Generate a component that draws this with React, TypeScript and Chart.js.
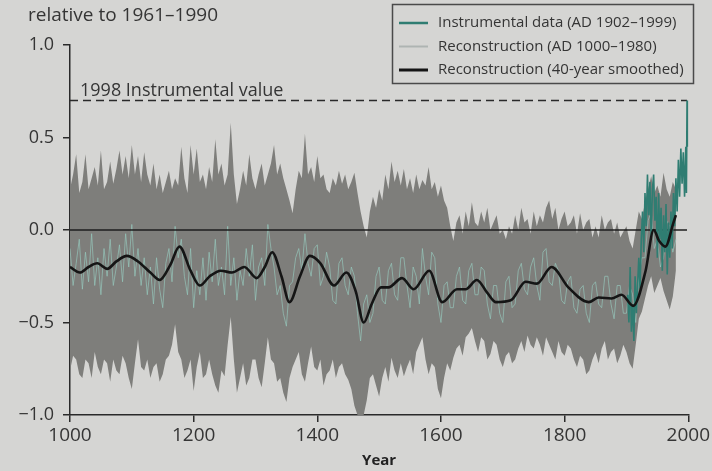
import React, { useEffect, useRef } from "react";
import { Chart, registerables } from "chart.js";
Chart.register(...registerables);

const BG = "#d5d5d3";
const TEXT = "#353535";

const bandYears = [
  1000, 1005, 1010, 1015, 1020, 1025, 1030, 1035, 1040, 1045,
  1050, 1055, 1060, 1065, 1070, 1075, 1080, 1085, 1090, 1095,
  1100, 1105, 1110, 1115, 1120, 1125, 1130, 1135, 1140, 1145,
  1150, 1155, 1160, 1165, 1170, 1175, 1180, 1185, 1190, 1195,
  1200, 1205, 1210, 1215, 1220, 1225, 1230, 1235, 1240, 1245,
  1250, 1255, 1260, 1265, 1270, 1275, 1280, 1285, 1290, 1295,
  1300, 1305, 1310, 1315, 1320, 1325, 1330, 1335, 1340, 1345,
  1350, 1355, 1360, 1365, 1370, 1375, 1380, 1385, 1390, 1395,
  1400, 1405, 1410, 1415, 1420, 1425, 1430, 1435, 1440, 1445,
  1450, 1455, 1460, 1465, 1470, 1475, 1480, 1485, 1490, 1495,
  1500, 1505, 1510, 1515, 1520, 1525, 1530, 1535, 1540, 1545,
  1550, 1555, 1560, 1565, 1570, 1575, 1580, 1585, 1590, 1595,
  1600, 1605, 1610, 1615, 1620, 1625, 1630, 1635, 1640, 1645,
  1650, 1655, 1660, 1665, 1670, 1675, 1680, 1685, 1690, 1695,
  1700, 1705, 1710, 1715, 1720, 1725, 1730, 1735, 1740, 1745,
  1750, 1755, 1760, 1765, 1770, 1775, 1780, 1785, 1790, 1795,
  1800, 1805, 1810, 1815, 1820, 1825, 1830, 1835, 1840, 1845,
  1850, 1855, 1860, 1865, 1870, 1875, 1880, 1885, 1890, 1895,
  1900, 1905, 1910, 1915, 1920, 1925, 1930, 1935, 1940, 1945,
  1950, 1955, 1960, 1965, 1970, 1975, 1980,
];

const bandUpper = [
  0.22, 0.30, 0.41, 0.20, 0.26, 0.41, 0.22, 0.28, 0.34, 0.24,
  0.43, 0.22, 0.26, 0.37, 0.25, 0.33, 0.43, 0.30, 0.40, 0.28,
  0.46, 0.30, 0.40, 0.26, 0.42, 0.30, 0.24, 0.36, 0.22, 0.30,
  0.20, 0.26, 0.32, 0.22, 0.28, 0.24, 0.45, 0.28, 0.20, 0.46,
  0.30, 0.44, 0.26, 0.30, 0.22, 0.34, 0.26, 0.49, 0.30, 0.36,
  0.24, 0.30, 0.58, 0.30, 0.14, 0.22, 0.32, 0.24, 0.41, 0.28,
  0.22, 0.30, 0.36, 0.24, 0.30, 0.36, 0.46, 0.30, 0.36, 0.28,
  0.22, 0.16, 0.09, 0.22, 0.32, 0.28, 0.52, 0.30, 0.34, 0.26,
  0.40, 0.28, 0.30, 0.22, 0.20, 0.28, 0.24, 0.32, 0.25, 0.30,
  0.22, 0.26, 0.31, 0.20, 0.10, 0.02, -0.04, 0.10, 0.18, 0.12,
  0.22, 0.16, 0.30, 0.22, 0.37, 0.26, 0.32, 0.24, 0.33, 0.22,
  0.28, 0.20, 0.30, 0.22, 0.27, 0.24, 0.34, 0.22, 0.26, 0.18,
  0.24, 0.16, 0.12, 0.02, -0.06, 0.04, 0.08, -0.02, 0.10, 0.02,
  0.15, 0.04, 0.02, 0.10, 0.04, 0.12, 0.00, 0.04, 0.08, -0.02,
  0.00, -0.05, 0.02, -0.02, 0.08, 0.00, 0.12, 0.04, 0.06, -0.02,
  0.10, 0.02, 0.08, 0.04, 0.12, 0.16, 0.06, 0.12, 0.00, 0.06,
  0.10, 0.02, 0.04, 0.08, -0.02, 0.09, 0.00, 0.04, 0.06, -0.04,
  0.02, -0.04, 0.08, 0.00, 0.04, 0.06, -0.02, 0.04, -0.04, -0.01,
  0.02, -0.06, -0.10, 0.00, 0.10, 0.06, 0.15, 0.22, 0.29, 0.20,
  0.24, 0.18, 0.31, 0.22, 0.18, 0.26, 0.22,
];

const bandLower = [
  -0.76, -0.68, -0.70, -0.78, -0.80, -0.70, -0.72, -0.80, -0.66, -0.74,
  -0.78, -0.70, -0.72, -0.82, -0.70, -0.76, -0.78, -0.68, -0.72, -0.80,
  -0.86, -0.72, -0.59, -0.74, -0.76, -0.70, -0.80, -0.74, -0.72, -0.82,
  -0.78, -0.70, -0.68, -0.62, -0.51, -0.66, -0.70, -0.80, -0.76, -0.70,
  -0.87, -0.74, -0.66, -0.80, -0.78, -0.70, -0.78, -0.84, -0.88, -0.76,
  -0.79, -0.62, -0.47, -0.70, -0.88, -0.80, -0.72, -0.84, -0.80, -0.70,
  -0.70, -0.80, -0.85, -0.72, -0.58, -0.70, -0.72, -0.82, -0.80, -0.88,
  -0.93, -0.80, -0.74, -0.70, -0.66, -0.78, -0.82, -0.72, -0.63, -0.74,
  -0.76, -0.70, -0.84, -0.78, -0.76, -0.70, -0.80, -0.74, -0.72, -0.78,
  -0.81, -0.86, -0.95, -1.0, -1.0, -1.0, -0.92, -0.80, -0.78, -0.84,
  -0.90, -0.80, -0.74, -0.82, -0.69, -0.76, -0.80, -0.72, -0.79, -0.74,
  -0.70, -0.78, -0.66, -0.62, -0.58, -0.70, -0.78, -0.72, -0.74, -0.86,
  -0.91, -0.80, -0.72, -0.76, -0.69, -0.64, -0.62, -0.68, -0.58, -0.56,
  -0.53, -0.60, -0.66, -0.58, -0.60, -0.70, -0.67, -0.60, -0.62, -0.70,
  -0.74, -0.68, -0.66, -0.72, -0.70, -0.64, -0.60, -0.66, -0.57, -0.62,
  -0.64, -0.58, -0.62, -0.68, -0.58, -0.62, -0.66, -0.70, -0.60, -0.66,
  -0.68, -0.62, -0.64, -0.70, -0.74, -0.68, -0.70, -0.78, -0.76, -0.70,
  -0.66, -0.72, -0.64, -0.60, -0.70, -0.66, -0.64, -0.72, -0.68, -0.62,
  -0.66, -0.72, -0.75, -0.62, -0.48, -0.44, -0.37, -0.30, -0.25, -0.34,
  -0.30, -0.26, -0.33, -0.38, -0.43, -0.36, -0.22,
];

const reconValues = [
  -0.10, -0.30, -0.18, -0.05, -0.32, -0.12, -0.28, -0.02, -0.30, -0.15,
  -0.35, -0.10, -0.25, -0.05, -0.30, -0.20, -0.08, -0.28, -0.02, -0.20,
  0.03, -0.25, -0.10, -0.30, -0.15, -0.35, -0.20, -0.40, -0.15, -0.32,
  -0.42, -0.18, -0.10, -0.28, 0.02, -0.15, -0.05, -0.25, -0.35, -0.10,
  -0.42, -0.22, -0.35, -0.15, -0.38, -0.12, -0.28, -0.05, -0.30, -0.20,
  -0.35, 0.02, -0.30, -0.15, -0.38, -0.22, -0.30, -0.10, -0.25, -0.08,
  -0.38, -0.20, -0.15, -0.30, 0.03, -0.10, -0.20, -0.35, -0.30, -0.45,
  -0.52, -0.30, -0.28, -0.15, -0.10, -0.22, -0.02, -0.18, -0.25, -0.10,
  -0.08, -0.30, -0.25, -0.12, -0.20, -0.38, -0.40, -0.18, -0.15, -0.30,
  -0.35, -0.20, -0.25, -0.45, -0.60, -0.40, -0.35, -0.50, -0.45, -0.25,
  -0.20, -0.38, -0.40, -0.22, -0.18, -0.35, -0.38, -0.15, -0.15, -0.30,
  -0.42, -0.20, -0.25, -0.40, -0.10, -0.25, -0.35, -0.12, -0.15, -0.40,
  -0.50, -0.30, -0.28, -0.42, -0.42, -0.25, -0.20, -0.38, -0.40, -0.22,
  -0.18, -0.35, -0.35, -0.20, -0.22, -0.40, -0.48, -0.30, -0.30, -0.45,
  -0.50, -0.28, -0.25, -0.42, -0.40, -0.22, -0.18, -0.32, -0.35, -0.20,
  -0.15, -0.30, -0.38, -0.12, -0.10, -0.28, -0.30, -0.18, -0.22, -0.38,
  -0.40, -0.28, -0.25, -0.42, -0.45, -0.32, -0.30, -0.45, -0.50, -0.30,
  -0.28, -0.40, -0.42, -0.25, -0.25, -0.40, -0.48, -0.30, -0.30, -0.45,
  -0.45, -0.30, -0.35, -0.50, -0.25, -0.15, -0.15, 0.05, 0.10, -0.10,
  -0.05, -0.20, -0.15, 0.05, 0.02, -0.12, -0.05,
];

const smoothYears = [
  1000, 1016, 1030, 1044, 1060, 1075, 1092, 1110, 1130, 1145,
  1162, 1177, 1195, 1210, 1226, 1244, 1262, 1282, 1302, 1315,
  1327, 1342, 1355, 1372, 1388, 1405, 1427, 1447, 1462, 1475,
  1488, 1503, 1515, 1537, 1556, 1581, 1602, 1626, 1640, 1658,
  1675, 1689, 1713, 1737, 1755, 1779, 1806, 1839, 1855, 1876,
  1892, 1911, 1931, 1944, 1953, 1963, 1976, 1980,
];
const smoothValues = [
  -0.20, -0.23, -0.20, -0.18, -0.21, -0.17, -0.14, -0.17, -0.23, -0.27,
  -0.19, -0.09, -0.22, -0.30, -0.25, -0.22, -0.23, -0.20, -0.26, -0.20,
  -0.12, -0.25, -0.39, -0.25, -0.14, -0.18, -0.30, -0.23, -0.33, -0.50,
  -0.40, -0.31, -0.31, -0.26, -0.32, -0.22, -0.39, -0.32, -0.32, -0.27,
  -0.34, -0.39, -0.38, -0.28, -0.29, -0.20, -0.31, -0.39, -0.365, -0.37,
  -0.35, -0.41, -0.22, 0.00, -0.06, -0.09, 0.04, 0.08,
];

const instYears = [
  1902, 1904, 1906, 1908, 1910, 1912, 1914, 1916, 1918, 1920,
  1922, 1924, 1926, 1928, 1930, 1932, 1934, 1936, 1938, 1940,
  1942, 1944, 1946, 1948, 1950, 1952, 1954, 1956, 1958, 1960,
  1962, 1964, 1966, 1968, 1970, 1972, 1974, 1976, 1978, 1980,
  1982, 1984, 1986, 1988, 1990, 1992, 1994, 1996, 1997, 1998, 1999,
];
const instValues = [
  -0.35, -0.50, -0.20, -0.55, -0.40, -0.60, -0.25, -0.45, -0.30, -0.15,
  -0.32, -0.05, 0.10, -0.12, 0.20, 0.02, 0.30, 0.08, 0.26, -0.05,
  0.22, 0.30, 0.05, 0.18, -0.15, 0.20, -0.05, 0.12, -0.22, 0.08,
  -0.12, 0.14, -0.24, 0.04, -0.15, 0.10, -0.10, 0.20, 0.02, 0.28,
  0.10, 0.38, 0.18, 0.44, 0.25, 0.42, 0.18, 0.45, 0.20, 0.70, 0.45,
];

const value1998 = 0.7;
const zeroLineYears = [1000, 1998];
const yTicks = [-1.0, -0.5, 0.0, 0.5, 1.0];
const xTicks = [1000, 1200, 1400, 1600, 1800, 2000];

const legendItems = [
  { label: "Instrumental data (AD 1902\u20131999)", color: "#2f7d72", width: 2.5 },
  { label: "Reconstruction (AD 1000\u20131980)", color: "#aeb4b2", width: 2 },
  { label: "Reconstruction (40-year smoothed)", color: "#151515", width: 3 },
];

const pts = (xs: number[], ys: number[]) => xs.map((x, i) => ({ x, y: ys[i] }));

const FONT = "'Open Sans', 'DejaVu Sans', sans-serif";

const decorPlugin = {
  id: "decor",
  beforeDraw(chart: any) {
    const ctx = chart.ctx;
    ctx.save();
    ctx.fillStyle = BG;
    ctx.fillRect(0, 0, chart.width, chart.height);
    ctx.restore();
  },
  afterDraw(chart: any) {
    const ctx = chart.ctx;
    const xs = chart.scales.x;
    const ys = chart.scales.y;
    ctx.save();
    ctx.fillStyle = TEXT;
    ctx.textAlign = "left";
    ctx.textBaseline = "alphabetic";
    ctx.font = `19px ${FONT}`;
    ctx.fillText("relative to 1961\u20131990", 28, 21);
    ctx.font = `18px ${FONT}`;
    ctx.fillText("1998 Instrumental value", xs.getPixelForValue(1000) + 10, ys.getPixelForValue(value1998) - 5);

    const bx = 392, by = 4, bw = 301, bh = 79;
    ctx.fillStyle = BG;
    ctx.fillRect(bx, by, bw, bh);
    ctx.strokeStyle = "#4a4a4a";
    ctx.lineWidth = 1.5;
    ctx.strokeRect(bx + 0.5, by + 0.5, bw, bh);
    ctx.font = `15px ${FONT}`;
    ctx.textBaseline = "middle";
    legendItems.forEach((it, i) => {
      const yy = 23 + i * 23.5;
      ctx.strokeStyle = it.color;
      ctx.lineWidth = it.width;
      ctx.beginPath();
      ctx.moveTo(399, yy);
      ctx.lineTo(428, yy);
      ctx.stroke();
      ctx.fillStyle = TEXT;
      ctx.fillText(it.label, 438, yy);
    });
    ctx.restore();
  },
};

export default function App() {
  const ref = useRef<HTMLCanvasElement>(null);
  useEffect(() => {
    const ctx = ref.current!;
    const chart = new Chart(ctx, {
      type: "line",
      data: {
        datasets: [
          {
            label: "smoothed",
            data: pts(smoothYears, smoothValues),
            borderColor: "#151515",
            borderWidth: 2.6,
            pointRadius: 0,
            cubicInterpolationMode: "monotone",
            fill: false,
          },
          {
            label: "instrumental",
            data: pts(instYears, instValues),
            borderColor: "#2f7d72",
            borderWidth: 1.6,
            pointRadius: 0,
            tension: 0,
            fill: false,
          },
          {
            label: "zero",
            data: pts(zeroLineYears, [0, 0]),
            borderColor: "#1e1e1e",
            borderWidth: 1.4,
            pointRadius: 0,
            fill: false,
          },
          {
            label: "1998",
            data: pts(zeroLineYears, [value1998, value1998]),
            borderColor: "#2a2a2a",
            borderWidth: 1.6,
            borderDash: [8, 5],
            pointRadius: 0,
            fill: false,
          },
          {
            label: "recon",
            data: pts(bandYears, reconValues),
            borderColor: "rgba(150,198,186,0.7)",
            borderWidth: 1,
            pointRadius: 0,
            tension: 0,
            fill: false,
          },
          {
            label: "upper",
            data: pts(bandYears, bandUpper),
            borderColor: "rgba(0,0,0,0)",
            borderWidth: 0,
            backgroundColor: "#7e7e7b",
            pointRadius: 0,
            tension: 0,
            fill: "+1",
          },
          {
            label: "lower",
            data: pts(bandYears, bandLower),
            borderColor: "rgba(0,0,0,0)",
            borderWidth: 0,
            pointRadius: 0,
            tension: 0,
            fill: false,
          },
        ],
      },
      options: {
        animation: false,
        responsive: true,
        maintainAspectRatio: false,
        layout: { padding: { left: 0, right: 22, top: 45, bottom: 0 } },
        plugins: {
          legend: { display: false },
          tooltip: { enabled: false },
        },
        scales: {
          x: {
            type: "linear",
            min: 1000,
            max: 2000,
            afterFit: (s: any) => { s.height = 56; },
            afterBuildTicks: (s: any) => { s.ticks = xTicks.map((v) => ({ value: v })); },
            ticks: {
              color: TEXT,
              font: { size: 19, family: FONT },
              padding: 2,
              maxRotation: 0,
              callback: (v: any) => String(v),
            },
            grid: { display: true, drawOnChartArea: false, tickLength: 7, color: "#2a2a2a", lineWidth: 1.5 },
            border: { display: true, color: "#2a2a2a", width: 1.5 },
            title: {
              display: true,
              text: "Year",
              color: "#222",
              font: { size: 15, weight: "bold", family: FONT },
              padding: { top: 0, bottom: 1 },
            },
          },
          y: {
            type: "linear",
            min: -1,
            max: 1,
            afterFit: (s: any) => { s.width = 70; },
            afterBuildTicks: (s: any) => { s.ticks = yTicks.map((v) => ({ value: v })); },
            ticks: {
              color: TEXT,
              font: { size: 18, family: FONT },
              padding: 9,
              callback: (v: any) => (Number(v) < 0 ? "\u2212" + Math.abs(Number(v)).toFixed(1) : Number(v).toFixed(1)),
            },
            grid: { display: true, drawOnChartArea: false, tickLength: 7, color: "#2a2a2a", lineWidth: 1.5 },
            border: { display: true, color: "#2a2a2a", width: 1.5 },
          },
        },
      },
      plugins: [decorPlugin],
    } as any);
    return () => chart.destroy();
  }, []);
  return (
    <div style={{ position: "fixed", left: 0, top: 0, width: 712, height: 471, background: BG }}>
      <canvas ref={ref} />
    </div>
  );
}
